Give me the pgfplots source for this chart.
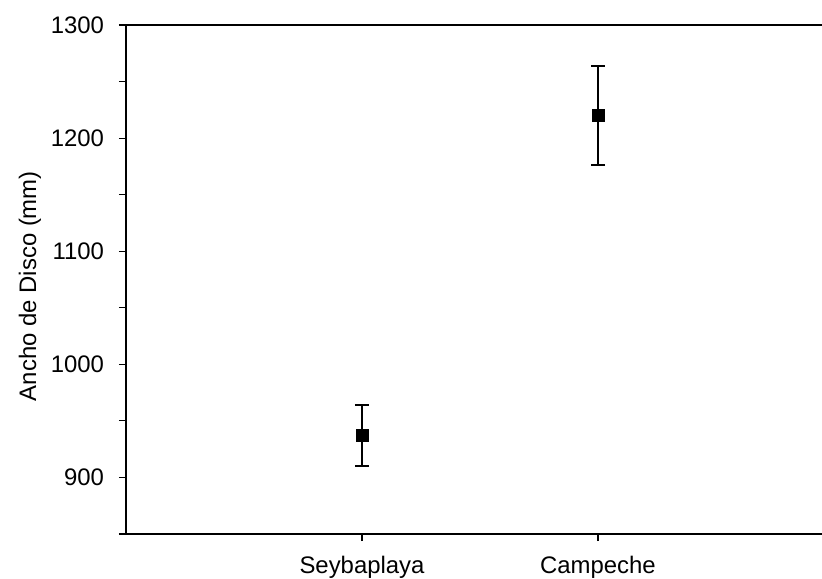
\documentclass[border=0pt]{standalone}
\usepackage{fontspec}
\setmainfont{Liberation Sans}
\usepackage{pgfplots}
\pgfplotsset{compat=1.18}
\begin{document}
\begin{tikzpicture}
\begin{axis}[
  at={(0,0)}, anchor=south west,
  scale only axis, width=354bp, height=254.5bp,
  xmin=0, xmax=3, ymin=850, ymax=1300,
  xtick={1,2}, xticklabels={Seybaplaya, Campeche},
  ytick={900,1000,1100,1200,1300},
  minor ytick={850,950,1050,1150,1250},
  tick align=outside, xtick pos=bottom, ytick pos=left,
  major tick length=3.5bp, minor tick length=3.5bp,
  tick style={black, line width=0.6bp},
  axis line style={line width=0.6bp},
  font=\fontsize{12}{14}\selectfont,
  ticklabel style={font=\fontsize{12}{14}\selectfont},
  yticklabel style={xshift=-4bp},
  xticklabel style={yshift=-4bp},
  /pgf/number format/assume math mode=true,
  /pgf/number format/1000 sep={},
  ylabel={Ancho de Disco (mm)},
  ylabel style={at={(axis description cs:-0.1356,0.487)}, anchor=center, rotate=0},
]
\addplot[only marks, mark=square*, mark size=3bp, black,
  error bars/.cd, y dir=both, y explicit,
  error bar style={line width=0.9bp},
  error mark options={rotate=90, mark size=3.5bp, line width=0.9bp}]
  coordinates {(1,937) +- (0,27) (2,1220) +- (0,44)};
\end{axis}
\pgfresetboundingbox
\path[use as bounding box] (-63bp,-22.5bp) rectangle (348bp,267bp);
\end{tikzpicture}
\end{document}
